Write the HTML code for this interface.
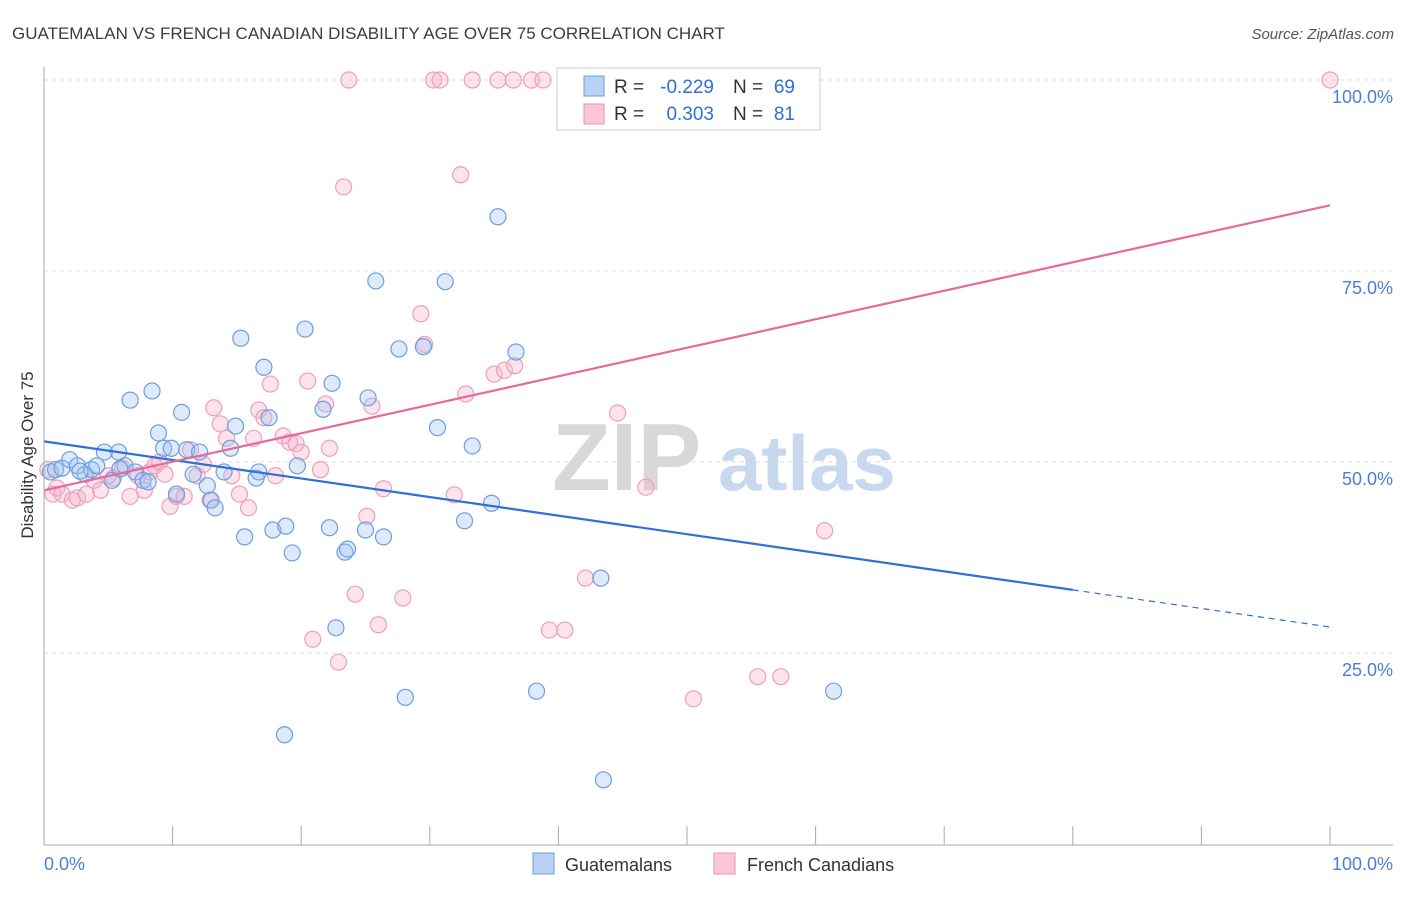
<!DOCTYPE html>
<html><head><meta charset="utf-8"><style>
body{margin:0;background:#fff;font-family:"Liberation Sans",sans-serif;}
svg text{font-family:"Liberation Sans",sans-serif;}
</style></head><body>
<svg id="chart" width="1406" height="892" viewBox="0 0 1406 892" xmlns="http://www.w3.org/2000/svg">
<text x="12" y="39" font-size="17" fill="#3c3c3c">GUATEMALAN VS FRENCH CANADIAN DISABILITY AGE OVER 75 CORRELATION CHART</text>
<text x="1394" y="39" font-size="15" fill="#555" font-style="italic" text-anchor="end">Source: ZipAtlas.com</text>
<g id="grid"></g>
<g>
<text x="552" y="490" font-size="96" fill="#d8d8d8" font-family="Liberation Serif" font-weight="bold">ZIP</text>
<text x="718" y="490" font-size="78" fill="#c8d9ef" font-weight="bold">atlas</text>
</g>
<g id="pts-pink"></g>
<g id="pts-blue"></g>
<g id="trend"></g>
<g id="axes"></g>
<text transform="translate(33,455) rotate(-90)" font-size="17" fill="#333" text-anchor="middle">Disability Age Over 75</text>
<g>
<rect x="557" y="68" width="263" height="62" fill="#fff" stroke="#ccc"/>
<rect x="584" y="76" width="20" height="20" fill="#b8d2f3" stroke="#6c9de0"/>
<rect x="584" y="104" width="20" height="20" fill="#f9c7d8" stroke="#ec93b2"/>
<text x="614" y="93" font-size="19" fill="#333">R =</text>
<text x="714" y="93" font-size="19" fill="#2f6fd1" text-anchor="end">-0.229</text>
<text x="733" y="93" font-size="19" fill="#333">N =</text>
<text x="795" y="93" font-size="19" fill="#2f6fd1" text-anchor="end">69</text>
<text x="614" y="120" font-size="19" fill="#333">R =</text>
<text x="714" y="120" font-size="19" fill="#2f6fd1" text-anchor="end">0.303</text>
<text x="733" y="120" font-size="19" fill="#333">N =</text>
<text x="795" y="120" font-size="19" fill="#2f6fd1" text-anchor="end">81</text>
</g>
<g>
<rect x="533" y="853" width="21" height="21" fill="#b8d2f3" stroke="#6c9de0"/>
<text x="565" y="871" font-size="18" fill="#333">Guatemalans</text>
<rect x="714" y="853" width="21" height="21" fill="#f9c7d8" stroke="#ec93b2"/>
<text x="747" y="871" font-size="18" fill="#333">French Canadians</text>
</g>
</svg>
<script>
const blueX=[0.5,0.9,1.4,2.0,2.6,3.2,3.7,4.1,4.7,5.3,5.8,6.3,6.7,7.1,7.7,8.1,8.4,8.9,9.3,9.9,10.3,10.7,11.1,11.6,12.1,12.7,13.0,13.3,14.0,14.5,14.9,15.3,15.6,16.5,16.7,17.1,17.5,17.8,18.8,18.7,19.3,19.7,20.3,21.7,22.4,22.2,22.7,23.4,23.6,25.0,25.2,25.8,26.4,27.6,28.1,29.5,30.6,31.2,32.7,33.3,34.8,35.3,36.7,38.3,43.3,43.5,61.4,2.8,5.9];
const blueY=[48.7,49.0,49.2,50.3,49.5,48.4,49.0,49.5,51.3,47.6,51.3,49.5,58.1,48.7,47.6,47.4,59.3,53.8,51.8,51.8,45.8,56.5,51.6,48.4,51.3,46.9,45.0,44.0,48.7,51.8,54.7,66.2,40.2,47.9,48.7,62.4,55.8,41.1,41.6,14.3,38.1,49.5,67.4,56.9,60.3,41.4,28.3,38.2,38.6,41.1,58.4,73.7,40.2,64.8,19.2,65.1,54.5,73.6,42.3,52.1,44.6,82.1,64.4,20.0,34.8,8.4,20.0,48.8,49.1];
const pinkX=[0.3,0.7,1.0,1.4,2.2,2.6,3.3,3.9,4.4,5.0,5.4,6.1,6.7,7.3,7.8,8.2,8.6,9.0,9.4,9.8,10.3,10.9,11.4,11.9,12.4,12.9,13.2,13.7,14.2,14.6,15.2,15.9,16.3,16.7,17.1,17.6,18.0,18.6,19.1,19.6,20.0,20.5,20.9,21.5,21.9,22.2,22.9,23.3,23.7,24.2,25.1,25.5,26.0,26.4,27.9,29.3,29.6,30.3,30.8,31.9,32.4,32.8,33.3,35.0,35.3,35.8,36.5,36.6,37.9,38.8,39.3,40.5,42.1,44.6,46.8,50.5,55.1,55.5,57.3,60.7,100];
const pinkY=[49.0,45.8,46.6,45.8,45.0,45.3,45.8,47.6,46.3,48.2,47.9,49.2,45.5,48.2,46.3,48.7,49.5,50.0,48.4,44.2,45.5,45.5,51.6,48.2,49.7,45.0,57.1,55.0,53.1,48.2,45.8,44.0,53.1,56.8,55.8,60.2,48.2,53.4,52.6,52.4,51.3,60.6,26.8,49.0,57.6,51.8,23.8,86.0,100,32.7,42.9,57.3,28.7,46.5,32.2,69.4,65.4,100,100,45.7,87.6,58.9,100,61.5,100,62.0,100,62.6,100,100,28.0,28.0,34.8,56.4,46.7,19.0,100,21.9,21.9,41.0,100];
const blueTrend=[52.7,28.4];
const pinkTrend=[46.3,83.6];
const yTicks=[100,75,50,25];
const yTickLabels=["100.0%","75.0%","50.0%","25.0%"];

const NS="http://www.w3.org/2000/svg";
const X0=44,X1=1330,Y0=844,Y100=80;
const sx=v=>X0+(X1-X0)*v/100;
const sy=v=>Y0-(Y0-Y100)*v/100;
function mk(tag,attrs,parent){const e=document.createElementNS(NS,tag);for(const k in attrs)e.setAttribute(k,attrs[k]);parent.appendChild(e);return e;}
const grid=document.getElementById('grid');
yTicks.forEach((t,i)=>{
  const l=mk('line',{x1:X0,x2:1393,y1:sy(t),y2:sy(t),stroke:'#dcdcdc','stroke-dasharray':'4,4'},grid);
  
  
  const tx=mk('text',{x:1393,y:sy(t)+23,'font-size':18,fill:'#4a7fd4','text-anchor':'end'},grid);
  tx.textContent=yTickLabels[i];
  
  
});
const axes=document.getElementById('axes');
mk('line',{x1:X0,x2:X0,y1:67,y2:845,stroke:'#aaa'},axes);
mk('line',{x1:X0,x2:1393,y1:845,y2:845,stroke:'#aaa'},axes);
for(let k=0;k<=10;k++){
  const t=mk('line',{x1:sx(k*10),x2:sx(k*10),y1:826,y2:845,stroke:'#aaa'},axes);
  
  
}
const xl0=mk('text',{x:X0,y:870,'font-size':18,fill:'#4a7fd4'},axes);xl0.textContent='0.0%';


const xl1=mk('text',{x:1393,y:870,'font-size':18,fill:'#4a7fd4','text-anchor':'end'},axes);xl1.textContent='100.0%';



function pts(xs,ys,g,fill,stroke,name){
  xs.forEach((x,i)=>{
    const c=mk('circle',{cx:sx(x),cy:sy(ys[i]),r:8,fill:fill,stroke:stroke,'stroke-width':1.2},g);
    
    
  });
}
pts(pinkX,pinkY,document.getElementById('pts-pink'),'rgba(246,175,200,0.35)','#ee9fba','french-canadian-point');
pts(blueX,blueY,document.getElementById('pts-blue'),'rgba(160,195,240,0.35)','#6a9ee2','guatemalan-point');
const tr=document.getElementById('trend');
const bAt=x=>blueTrend[0]+(blueTrend[1]-blueTrend[0])*x/100;
const pAt=x=>pinkTrend[0]+(pinkTrend[1]-pinkTrend[0])*x/100;
const b1=mk('line',{x1:sx(0),y1:sy(bAt(0)),x2:sx(80),y2:sy(bAt(80)),stroke:'#2f6fd6','stroke-width':2.2},tr);


const b2=mk('line',{x1:sx(80),y1:sy(bAt(80)),x2:sx(100),y2:sy(bAt(100)),stroke:'#2f6fd6','stroke-width':1.2,'stroke-dasharray':'6,5'},tr);


const p1=mk('line',{x1:sx(0),y1:sy(pAt(0)),x2:sx(100),y2:sy(pAt(100)),stroke:'#e8689a','stroke-width':2.2},tr);


</script>
</body></html>
